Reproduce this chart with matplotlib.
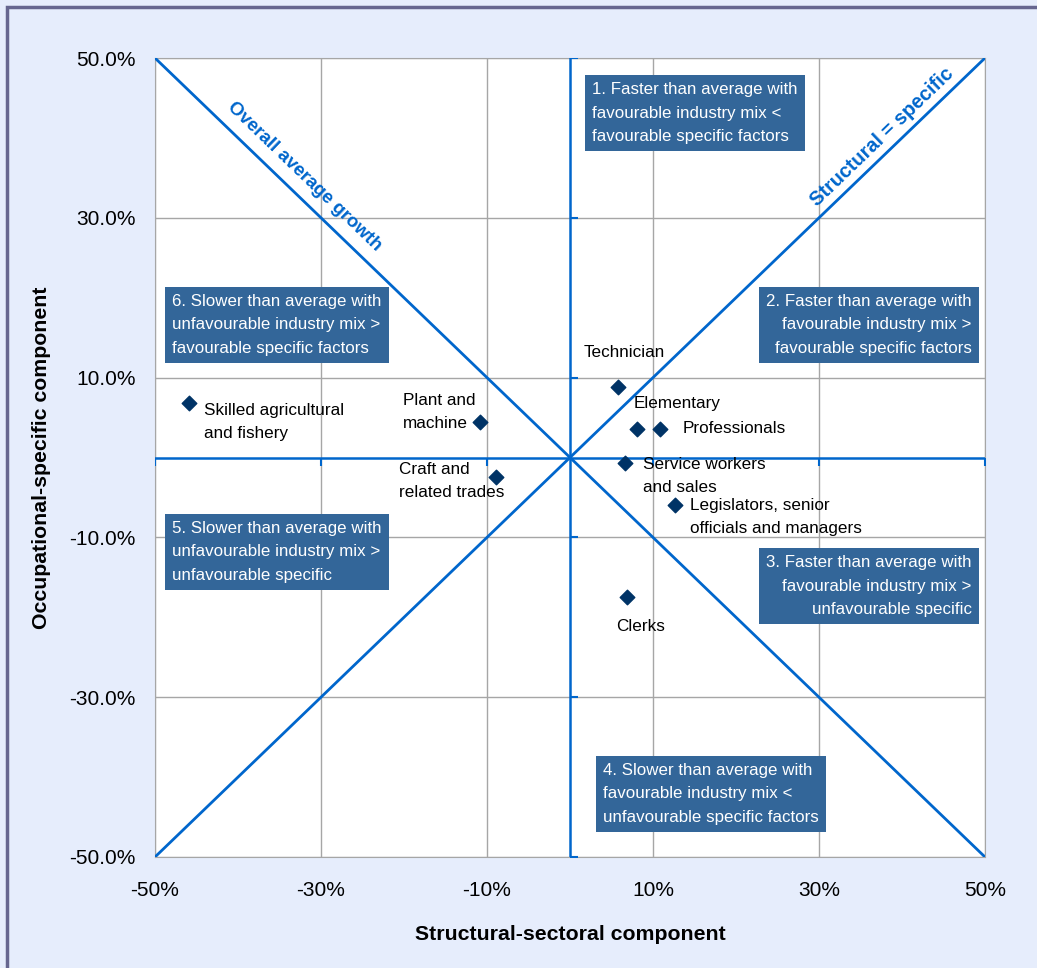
import matplotlib
matplotlib.use("Agg")
import matplotlib.pyplot as plt
from matplotlib.patches import Rectangle

# occupations: structural-sectoral (x) vs occupational-specific (y), in %
occupations = ["Skilled agricultural\nand fishery", "Plant and\nmachine", "Craft and\nrelated trades",
               "Technician", "Elementary", "Professionals", "Service workers\nand sales",
               "Legislators, senior\nofficials and managers", "Clerks"]
structural = [-45.9, -10.8, -8.9, 5.8, 8.1, 10.8, 6.6, 12.7, 6.9]
specific = [6.8, 4.4, -2.4, 8.8, 3.6, 3.6, -0.7, -5.9, -17.5]
label_x = [-44.1, -20.1, -20.6, 1.6, 7.7, 13.6, 8.8, 14.5, 5.5]
label_y = [4.4, 5.7, -2.9, 13.2, 6.7, 3.6, -2.3, -7.4, -21.2]

ticks = [-50, -30, -10, 10, 30, 50]

quadrant_text = [
    "1. Faster than average with\nfavourable industry mix <\nfavourable specific factors",
    "2. Faster than average with\nfavourable industry mix >\nfavourable specific factors",
    "3. Faster than average with\nfavourable industry mix >\nunfavourable specific",
    "4. Slower than average with\nfavourable industry mix <\nunfavourable specific factors",
    "5. Slower than average with\nunfavourable industry mix >\nunfavourable specific",
    "6. Slower than average with\nunfavourable industry mix >\nfavourable specific factors",
]
quadrant_x = [2.65, 48.4, 48.4, 4.0, -47.95, -47.95]
quadrant_y = [47.0, 20.5, -12.2, -38.2, -7.9, 20.5]
quadrant_ha = ["left", "right", "right", "left", "left", "left"]

bg = "#E6EDFC"
line_blue = "#0066CC"
box_blue = "#336699"

plt.rcParams['font.family'] = ['Liberation Sans', 'DejaVu Sans']

fig = plt.figure(figsize=(10.37, 9.68), dpi=100, facecolor=bg)
fig.patches.append(Rectangle((7 / 1037, -0.1), 1.2, 1.1 - 7 / 968, transform=fig.transFigure,
                             fill=False, edgecolor="#66668F", linewidth=2.5))
ax = fig.add_axes([155 / 1037, 1 - 857 / 968, 830 / 1037, 799 / 968])
ax.set_facecolor("white")

ax.set_xlim(-50, 50)
ax.set_ylim(-50, 50)
ax.set_xticks(ticks)
ax.set_yticks(ticks)
ax.set_xticklabels([f"{t}%" for t in ticks])
ax.set_yticklabels([f"{t:.1f}%" for t in ticks])
ax.tick_params(length=0, labelsize=15)
ax.tick_params(axis="x", pad=17)
ax.tick_params(axis="y", pad=14)
ax.grid(True, color="#A6A6A6", linewidth=1)
for s in ax.spines.values():
    s.set_color("#A6A6A6")
ax.set_axisbelow(True)

# reference lines
ax.plot([-50, 50], [50, -50], color=line_blue, lw=2, zorder=3)
ax.plot([-50, 50], [-50, 50], color=line_blue, lw=2, zorder=3)
ax.plot([-50, 50], [0, 0], color=line_blue, lw=1.8, zorder=3)
ax.plot([0, 0], [-50, 50], color=line_blue, lw=1.8, zorder=3)
ax.plot(ticks, [0] * len(ticks), ls="none", marker=3, ms=6, mew=1.5, color=line_blue, zorder=3)
ax.plot([0] * len(ticks), ticks, ls="none", marker=1, ms=6, mew=1.5, color=line_blue, zorder=3)

ax.text(-32.0, 35.1, "Overall average growth", rotation=-45, transform_rotates_text=True,
        ha="center", va="center", rotation_mode="anchor", color=line_blue,
        fontsize=13.5, fontweight="heavy", zorder=4)
ax.text(37.6, 40.1, "Structural = specific", rotation=45, transform_rotates_text=True,
        ha="center", va="center", rotation_mode="anchor", color=line_blue,
        fontsize=14.3, fontweight="heavy", zorder=4)

ax.scatter(structural, specific, marker="D", s=55, color="#003366", zorder=5)
for name, lx, ly in zip(occupations, label_x, label_y):
    ax.text(lx, ly, name, ha="left", va="center", fontsize=12.3, linespacing=1.65, zorder=5)

for txt, qx, qy, ha in zip(quadrant_text, quadrant_x, quadrant_y, quadrant_ha):
    ax.text(qx, qy, txt, ha=ha, va="top", multialignment=ha, color="white", fontsize=12.2,
            linespacing=1.72, zorder=6,
            bbox=dict(boxstyle="square,pad=0.42", fc=box_blue, ec="none"))

ax.set_xlabel("Structural-sectoral component", fontsize=15.3, fontweight="bold", labelpad=18)
ax.set_ylabel("Occupational-specific component", fontsize=15.3, fontweight="bold", labelpad=13)

fig.savefig("out.png", dpi=100, facecolor=bg)
